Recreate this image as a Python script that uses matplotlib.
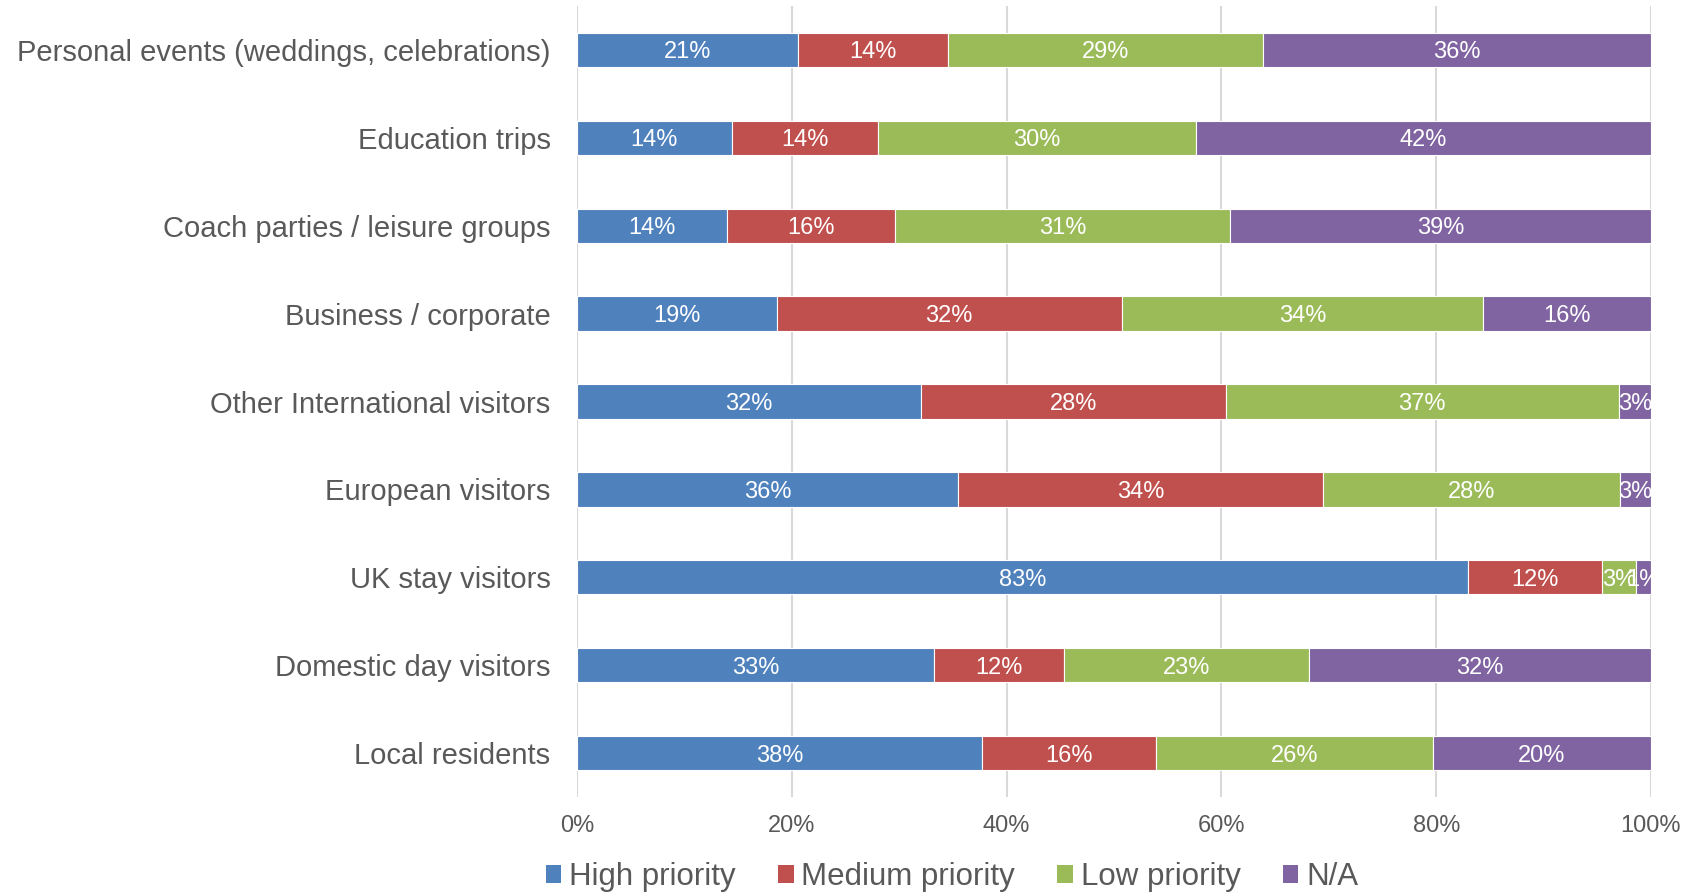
import matplotlib
matplotlib.use("Agg")
import matplotlib.pyplot as plt
from matplotlib.patches import Patch
import numpy as np

plt.rcParams['font.family'] = ['Liberation Sans', 'DejaVu Sans']

categories = [
    "Personal events (weddings, celebrations)",
    "Education trips",
    "Coach parties / leisure groups",
    "Business / corporate",
    "Other International visitors",
    "European visitors",
    "UK stay visitors",
    "Domestic day visitors",
    "Local residents",
]
high = [20.6, 14.4, 14.0, 18.6, 32.0, 35.5, 83.0, 33.2, 37.7]
medium = [13.9, 13.6, 15.6, 32.1, 28.4, 34.0, 12.4, 12.1, 16.2]
low = [29.4, 29.6, 31.2, 33.7, 36.6, 27.6, 3.2, 22.9, 25.8]
na = [36.1, 42.4, 39.2, 15.6, 3.0, 2.9, 1.4, 31.8, 20.3]

series_names = ["High priority", "Medium priority", "Low priority", "N/A"]
series_values = [high, medium, low, na]
colors = ["#4F81BD", "#C0504D", "#9BBB59", "#8064A2"]
tick_values = [0, 20, 40, 60, 80, 100]

text_color = "#595959"

fig = plt.figure(figsize=(16.85, 8.93), dpi=100)
ax = fig.add_axes([577 / 1685, 96 / 893, (1651 - 577) / 1685, (797 - 6) / 893])

y = np.arange(len(categories))[::-1]
left = np.zeros(len(categories))
for name, vals, col in zip(series_names, series_values, colors):
    vals = np.array(vals)
    ax.barh(y, vals, left=left, height=0.39, color=col,
            edgecolor="white", linewidth=0.8, zorder=3, label=name)
    for yi, l, v in zip(y, left, vals):
        ax.text(l + v / 2, yi, f"{v:.0f}%", ha="center", va="center_baseline",
                color="white", fontsize=17, zorder=4)
    left = left + vals

ax.set_xlim(0, 100)
ax.set_ylim(-0.5, len(categories) - 0.5)
ax.set_xticks(tick_values)
ax.set_xticklabels([f"{t}%" for t in tick_values], fontsize=17, color=text_color)
ax.set_yticks(y)
ax.set_yticklabels(categories, fontsize=21, color=text_color)
ax.tick_params(axis="both", length=0)
ax.tick_params(axis="y", pad=19)
ax.tick_params(axis="x", pad=13)
for s in ax.spines.values():
    s.set_visible(False)
ax.grid(axis="x", color="#D9D9D9", linewidth=1.5, zorder=0)
ax.set_axisbelow(True)

handles = [Patch(facecolor=c, edgecolor="none", label=n) for n, c in zip(series_names, colors)]
fig.legend(handles=handles, loc="center", bbox_to_anchor=(952 / 1685, 1 - 877 / 893),
           ncol=4, frameon=False, fontsize=22.5, handlelength=0.5, handleheight=0.5,
           handletextpad=0.25, columnspacing=1.35, labelcolor=text_color)

fig.savefig("out.png", dpi=100)
